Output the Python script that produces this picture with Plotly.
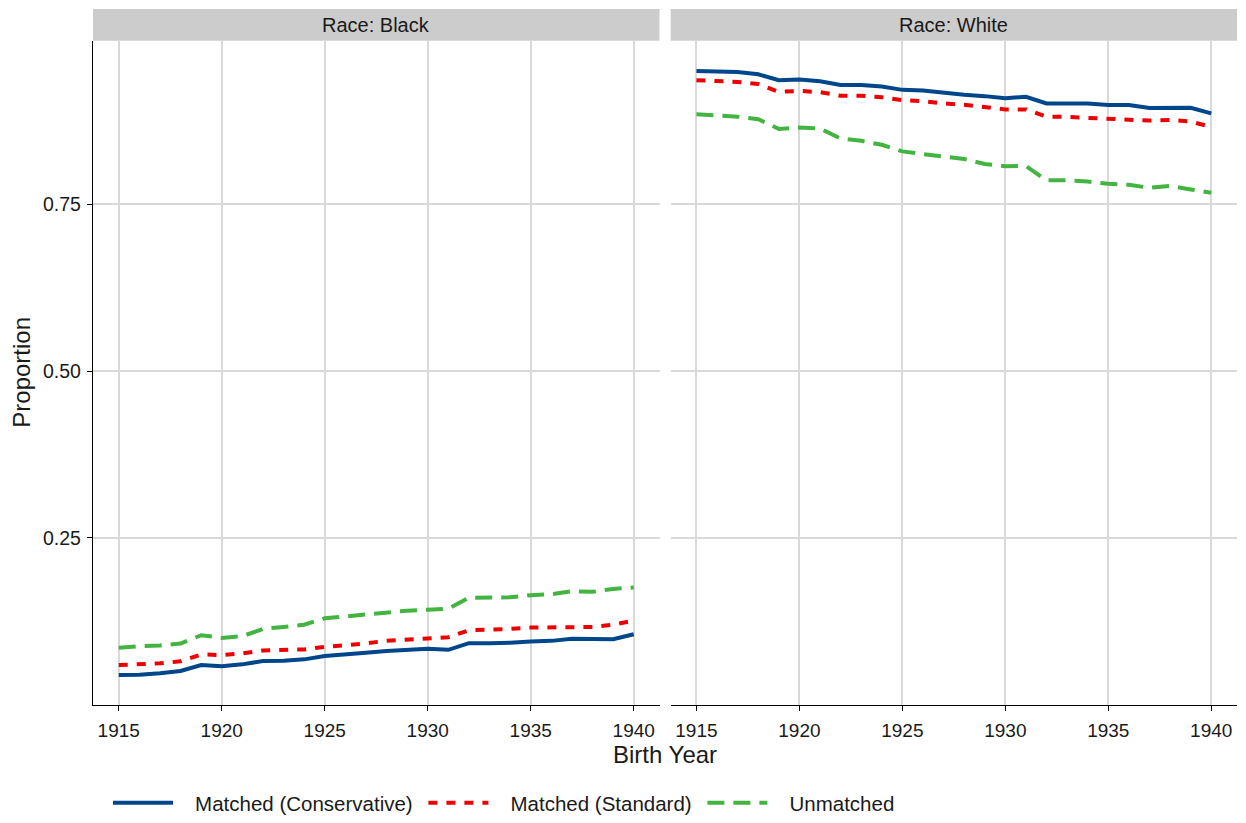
import plotly.graph_objects as go

years = [1915, 1916, 1917, 1918, 1919, 1920, 1921, 1922, 1923, 1924, 1925, 1926, 1927,
         1928, 1929, 1930, 1931, 1932, 1933, 1934, 1935, 1936, 1937, 1938, 1939, 1940]

black_conservative = [0.0446, 0.0450, 0.0470, 0.0506, 0.0595, 0.0576, 0.0605, 0.0655, 0.0660,
                      0.0680, 0.0729, 0.0749, 0.0779, 0.0804, 0.0823, 0.0838, 0.0823, 0.0923,
                      0.0923, 0.0928, 0.0948, 0.0957, 0.0987, 0.0977, 0.0982, 0.1057]
black_standard = [0.0595, 0.0600, 0.0620, 0.0650, 0.0754, 0.0744, 0.0770, 0.0814, 0.0814,
                  0.0829, 0.0868, 0.0888, 0.0918, 0.0960, 0.0980, 0.0997, 0.1012, 0.1116,
                  0.1120, 0.1136, 0.1156, 0.1160, 0.1176, 0.1166, 0.1200, 0.1260]
black_unmatched = [0.0853, 0.0878, 0.0888, 0.0918, 0.1042, 0.1002, 0.1027, 0.1136, 0.1166,
                   0.1200, 0.1295, 0.1324, 0.1350, 0.1374, 0.1410, 0.1424, 0.1440, 0.1603,
                   0.1603, 0.1610, 0.1642, 0.1657, 0.1700, 0.1692, 0.1736, 0.1756]

white_conservative = [0.9499, 0.9499, 0.9484, 0.9449, 0.9360, 0.9370, 0.9345, 0.9290, 0.9290,
                      0.9266, 0.9216, 0.9206, 0.9171, 0.9141, 0.9122, 0.9092, 0.9112, 0.9013,
                      0.9013, 0.9013, 0.8988, 0.8988, 0.8943, 0.8953, 0.8948, 0.8864]
white_standard = [0.9360, 0.9350, 0.9335, 0.9305, 0.9186, 0.9200, 0.9182, 0.9127, 0.9127,
                  0.9107, 0.9062, 0.9048, 0.9013, 0.8993, 0.8953, 0.8923, 0.8923, 0.8814,
                  0.8810, 0.8800, 0.8775, 0.8775, 0.8755, 0.8765, 0.8740, 0.8660]
white_unmatched = [0.8850, 0.8835, 0.8814, 0.8775, 0.8631, 0.8650, 0.8636, 0.8487, 0.8452,
                   0.8393, 0.8294, 0.8254, 0.8219, 0.8180, 0.8105, 0.8070, 0.8075, 0.7860,
                   0.7860, 0.7842, 0.7808, 0.7793, 0.7748, 0.7778, 0.7723, 0.7674]

panels = ["Race: Black", "Race: White"]
series_names = ["Matched (Conservative)", "Matched (Standard)", "Unmatched"]
x_ticks = [1915, 1920, 1925, 1930, 1935, 1940]
y_ticks = [0.25, 0.50, 0.75]
y_tick_labels = ["0.25", "0.50", "0.75"]

colors = ["#00468B", "#ED0000", "#42B540"]
dashes = ["solid", "9px,9px", "17px,9px"]

W, H = 1246, 823
FONT = "Liberation Sans, Arial, Helvetica, sans-serif"
TXT = "#1a1a1a"
NB = "\u00a0"

fig = go.Figure()

data = {
    0: [black_conservative, black_standard, black_unmatched],
    1: [white_conservative, white_standard, white_unmatched],
}
for p in range(2):
    xa = "x" if p == 0 else "x2"
    ya = "y" if p == 0 else "y2"
    for i, name in enumerate(series_names):
        # non-breaking spaces only pad the legend entry (gap after the key / between items)
        label = NB * 3 + name + (NB if i < len(series_names) - 1 else "")
        fig.add_trace(go.Scatter(
            x=years, y=data[p][i], mode="lines", name=label,
            line=dict(color=colors[i], width=4, dash=dashes[i]),
            xaxis=xa, yaxis=ya, legendgroup=name, showlegend=(p == 0),
            hovertemplate=name + "<br>%{x}: %{y:.3f}<extra></extra>",
        ))

# panel geometry (pixels)
left_dom = [93 / W, 659.5 / W]
right_dom = [670.7 / W, 1237 / W]
y_dom = [1 - 709.5 / H, 1 - 41 / H]

GRID = "#d9d9d9"
xcommon = dict(range=[1913.75, 1941.25], tickvals=x_ticks, showgrid=True,
               gridcolor=GRID, gridwidth=1.5, showline=True, linecolor="black",
               linewidth=1.3, ticks="outside", ticklen=5, tickcolor="black", tickwidth=1.2,
               tickfont=dict(size=19, color=TXT, family=FONT), zeroline=False,
               ticklabelstandoff=3)
ycommon = dict(range=[-0.0007, 0.9952], tickvals=y_ticks, ticktext=y_tick_labels,
               showgrid=True, gridcolor=GRID, gridwidth=1.5, zeroline=False,
               domain=y_dom)

fig.update_layout(
    width=W, height=H,
    margin=dict(l=0, r=0, t=0, b=0),
    paper_bgcolor="white", plot_bgcolor="white",
    font=dict(family=FONT, color=TXT),
    xaxis=dict(domain=left_dom, anchor="y", **xcommon),
    xaxis2=dict(domain=right_dom, anchor="y2", **xcommon),
    yaxis=dict(anchor="x", showline=True, linecolor="black", linewidth=1.3,
               ticks="outside", ticklen=5, tickcolor="black", tickwidth=1.2,
               tickfont=dict(size=19.5, color=TXT, family=FONT), ticklabelstandoff=2,
               **ycommon),
    yaxis2=dict(anchor="x2", matches="y", showline=False, ticks="",
                showticklabels=False, **ycommon),
    legend=dict(orientation="h", x=108 / W, xanchor="left", y=1 - 808 / H,
                yanchor="middle", font=dict(size=20.5, color=TXT, family=FONT),
                bgcolor="rgba(0,0,0,0)", itemwidth=60, tracegroupgap=0),
    showlegend=True,
)

# facet strips
strip_y = [1 - 41 / H, 1 - 9 / H]
for dom, label in zip([left_dom, right_dom], panels):
    fig.add_shape(type="rect", xref="paper", yref="paper", x0=dom[0], x1=dom[1],
                  y0=strip_y[0], y1=strip_y[1], fillcolor="#cccccc", line=dict(width=0),
                  layer="below")
    fig.add_annotation(text=label, xref="paper", yref="paper",
                       x=(dom[0] + dom[1]) / 2, y=(strip_y[0] + strip_y[1]) / 2,
                       showarrow=False, xanchor="center", yanchor="middle",
                       font=dict(size=20, color=TXT, family=FONT))

# axis titles
fig.add_annotation(text="Birth Year", xref="paper", yref="paper",
                   x=(left_dom[0] + right_dom[1]) / 2, y=1 - 759 / H, showarrow=False,
                   xanchor="center", yanchor="middle",
                   font=dict(size=24, color=TXT, family=FONT))
fig.add_annotation(text="Proportion", xref="paper", yref="paper",
                   x=22 / W, y=1 - 375 / H, showarrow=False, textangle=-90,
                   xanchor="center", yanchor="middle",
                   font=dict(size=24, color=TXT, family=FONT))

fig.write_html("out.html")
